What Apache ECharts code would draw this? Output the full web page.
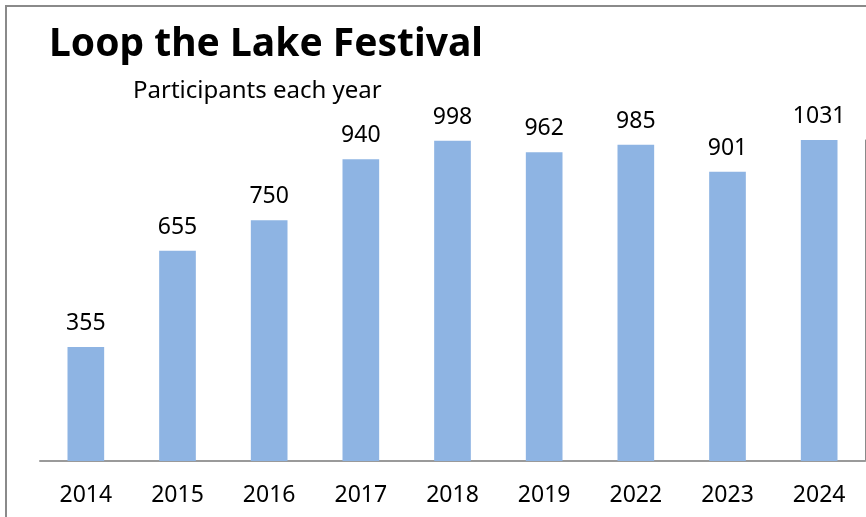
<!DOCTYPE html>
<html>
<head>
<meta charset="utf-8">
<script src="https://cdn.jsdelivr.net/npm/echarts@6/dist/echarts.min.js"></script>
<style>
html,body{margin:0;padding:0;background:#fff;}
#chart{width:866px;height:517px;}
</style>
</head>
<body>
<div id="chart"></div>
<script>
const titleText = 'Loop the Lake Festival';
const subtitleText = 'Participants each year';
const years = ['2014','2015','2016','2017','2018','2019','2022','2023','2024'];
const participants = [355, 655, 750, 940, 998, 962, 985, 901, 1031];
const yMin = 0;
const yMax = 1000;

const chart = echarts.init(document.getElementById('chart'), null, {renderer:'canvas'});
const font = 'Noto Sans';
chart.setOption({
  animation: false,
  backgroundColor: '#fff',
  title: [
    {text: titleText, left: 44, top: 20, textStyle: {fontFamily: font, fontWeight: 'bold', fontSize: 39, color: '#000'}},
    {text: subtitleText, left: 128, top: 74, textStyle: {fontFamily: font, fontWeight: 'normal', fontSize: 24, color: '#000'}}
  ],
  graphic: [
    {type: 'polyline', shape: {points: [[6, 517], [6, 6], [866, 6]]}, style: {stroke: '#8a8a8a', lineWidth: 2, fill: null}, silent: true}
  ],
  grid: {left: 40, right: 1, top: 140, bottom: 56, containLabel: false},
  xAxis: {
    type: 'category',
    data: years,
    axisLine: {show: true, lineStyle: {color: '#9a9a9a', width: 2}},
    axisTick: {show: false},
    axisLabel: {fontFamily: font, fontSize: 23, color: '#000', margin: 23}
  },
  yAxis: {
    type: 'value',
    position: 'right',
    min: yMin,
    max: yMax,
    axisLine: {show: true, lineStyle: {color: '#8a8a8a', width: 1}},
    axisTick: {show: false},
    axisLabel: {show: false},
    splitLine: {show: false}
  },
  series: [{
    type: 'bar',
    data: participants,
    barWidth: '40%',
    itemStyle: {color: '#8eb4e3'},
    label: {show: true, position: 'top', distance: 12, fontFamily: font, fontSize: 23, color: '#000'}
  }]
});
</script>
</body>
</html>
